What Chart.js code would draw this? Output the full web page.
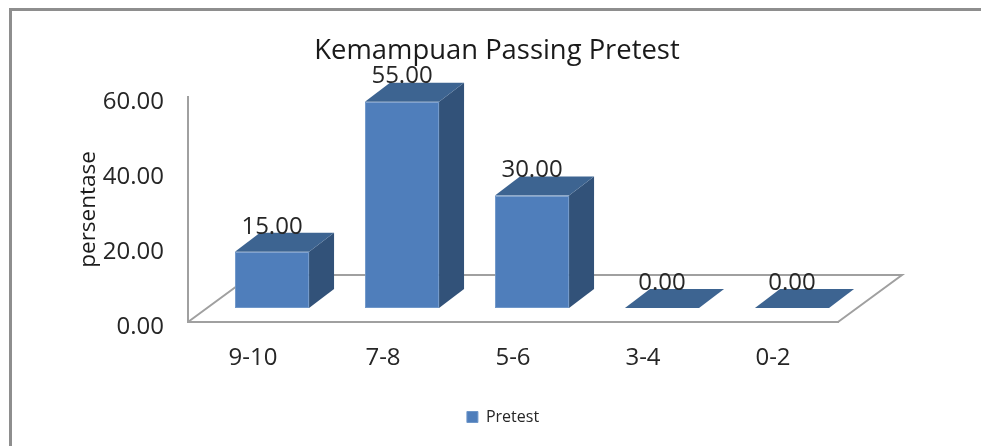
<!DOCTYPE html>
<html>
<head>
<meta charset="utf-8">
<script src="https://cdn.jsdelivr.net/npm/chart.js@4"></script>
<style>
html, body { margin: 0; padding: 0; background: #fff; overflow: hidden; }
#wrap { position: relative; width: 981px; height: 446px; }
#frame { position: absolute; left: 9px; top: 8px; width: 975px; height: 445px; border: 3px solid #8e8e8e; box-sizing: border-box; }
canvas { position: absolute; left: 0; top: 0; }
</style>
</head>
<body>
<div id="wrap">
<div id="frame"></div>
<canvas id="myChart" width="981" height="446"></canvas>
</div>
<script>
var categories = ["9-10", "7-8", "5-6", "3-4", "0-2"];
var pretest = [15, 55, 30, 0, 0];
var yTicks = [0, 20, 40, 60];

var fontName = "'Open Sans', sans-serif";
var textColor = "#262626";
var axisColor = "#a0a0a0";

// how far the bars stand in from the front of the floor, and how deep they are
var floorX = 19, floorY = -14;
var barDepthX = 25, barDepthY = -19;
var depthX = 64, depthY = -47;

var fake3d = {
  id: "fake3d",
  afterLayout: function(chart) {
    // title and legend sit off-centre in the original
    chart.titleBlock.left += 78;
    chart.titleBlock.right += 78;
    chart.legend.left += 84;
    chart.legend.right += 84;
  },
  beforeDatasetDraw: function(chart) {
    var ctx = chart.ctx;
    var a = chart.chartArea;
    ctx.save();
    // floor
    ctx.strokeStyle = axisColor;
    ctx.lineWidth = 2;
    ctx.beginPath();
    ctx.moveTo(a.left, a.bottom);
    ctx.lineTo(a.left + depthX, a.bottom + depthY);
    ctx.lineTo(a.right + depthX, a.bottom + depthY);
    ctx.lineTo(a.right, a.bottom);
    ctx.stroke();
    ctx.translate(floorX, floorY);
    // top and side of every bar, the front comes from the library
    chart.getDatasetMeta(0).data.forEach(function(bar) {
      var p = bar.getProps(["x", "y", "base", "width"], true);
      var l = p.x - p.width / 2, r = p.x + p.width / 2;
      ctx.fillStyle = "#325279";
      ctx.beginPath();
      ctx.moveTo(r, p.y);
      ctx.lineTo(r + barDepthX, p.y + barDepthY);
      ctx.lineTo(r + barDepthX, p.base + barDepthY);
      ctx.lineTo(r, p.base);
      ctx.closePath();
      ctx.fill();
      ctx.fillStyle = "#3d6491";
      ctx.beginPath();
      ctx.moveTo(l, p.y);
      ctx.lineTo(l + barDepthX, p.y + barDepthY);
      ctx.lineTo(r + barDepthX, p.y + barDepthY);
      ctx.lineTo(r, p.y);
      ctx.closePath();
      ctx.fill();
    });
  },
  afterDatasetDraw: function(chart) {
    var ctx = chart.ctx;
    ctx.restore();
    // value labels
    ctx.save();
    ctx.font = "24px " + fontName;
    ctx.fillStyle = textColor;
    ctx.textAlign = "center";
    ctx.textBaseline = "middle";
    chart.getDatasetMeta(0).data.forEach(function(bar, i) {
      var p = bar.getProps(["x", "y", "width"], true);
      ctx.fillText(pretest[i].toFixed(2), p.x + floorX, p.y + floorY - 25);
    });
    ctx.restore();
  }
};

new Chart(document.getElementById("myChart").getContext("2d"), {
  type: "bar",
  data: {
    labels: categories,
    datasets: [{
      label: "Pretest",
      data: pretest,
      backgroundColor: "#4f7ebb",
      borderColor: "#6f97c9",
      borderWidth: 1,
      borderSkipped: false,
      barPercentage: 0.57,
      categoryPercentage: 1,
      clip: false
    }]
  },
  options: {
    responsive: false,
    animation: false,
    layout: { padding: { left: 0, right: 143, top: 10, bottom: 11 } },
    plugins: {
      tooltip: { enabled: false },
      title: {
        display: true,
        text: "Kemampuan Passing Pretest",
        color: "#1a1a1a",
        font: { family: fontName, size: 27.4, weight: "normal" },
        padding: { top: 25, bottom: 29 }
      },
      legend: {
        position: "bottom",
        labels: {
          color: textColor,
          font: { family: fontName, size: 16 },
          boxWidth: 11,
          boxHeight: 11,
          padding: 4
        }
      }
    },
    scales: {
      x: {
        grid: { display: false, drawTicks: false },
        border: { color: axisColor, width: 2 },
        ticks: { color: textColor, padding: 22, maxRotation: 0, font: { family: fontName, size: 24 } },
        afterFit: function(scale) { scale.height = 83; }
      },
      y: {
        min: 0,
        max: 60,
        afterBuildTicks: function(scale) {
          scale.ticks = yTicks.map(function(v) { return { value: v }; });
        },
        grid: { display: false, drawTicks: false },
        border: { color: axisColor, width: 2 },
        title: {
          display: true,
          text: "persentase",
          color: "#1a1a1a",
          font: { family: fontName, size: 22.5 },
          padding: { top: 75, bottom: 0 }
        },
        ticks: {
          color: textColor,
          padding: 24,
          labelOffset: 5,
          font: { family: fontName, size: 24 },
          callback: function(v) { return v.toFixed(2); }
        },
        afterFit: function(scale) { scale.width = 188; }
      }
    }
  },
  plugins: [fake3d]
});
</script>
</body>
</html>
